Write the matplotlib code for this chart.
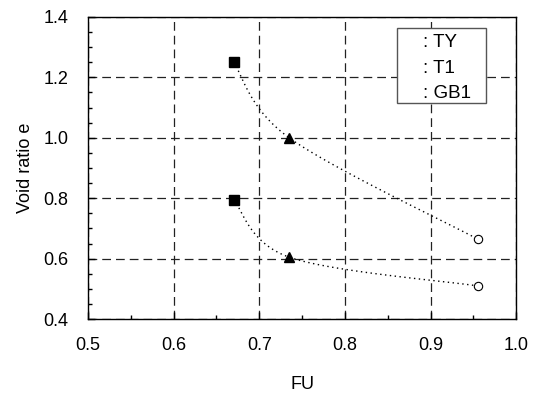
import numpy as np
import matplotlib
matplotlib.use("Agg")
import matplotlib.pyplot as plt
from matplotlib.patches import Rectangle
from matplotlib.ticker import MultipleLocator, FormatStrFormatter

plt.rcParams["font.family"] = ["Liberation Sans", "DejaVu Sans"]

# values
fu = [0.67, 0.735, 0.955]
e_upper = [1.25, 1.0, 0.665]
e_lower = [0.795, 0.605, 0.51]
sample_names = ["TY", "T1", "GB1"]
sample_markers = ["s", "^", "o"]


def smooth_curve(xs, ys, n=40):
    """Catmull-Rom through the points (in pixel-like scaled space), like a spreadsheet smoothed line."""
    sx, sy = 856.0, 302.0
    p = np.column_stack([np.asarray(xs) * sx, np.asarray(ys) * sy])
    p = np.vstack([p[0], p, p[-1]])
    out = []
    for i in range(1, len(p) - 2):
        p0, p1, p2, p3 = p[i - 1], p[i], p[i + 1], p[i + 2]
        t = np.linspace(0, 1, n)[:, None]
        seg = 0.5 * ((2 * p1) + (-p0 + p2) * t + (2 * p0 - 5 * p1 + 4 * p2 - p3) * t ** 2
                     + (-p0 + 3 * p1 - 3 * p2 + p3) * t ** 3)
        out.append(seg if i == 1 else seg[1:])
    out = np.vstack(out)
    return out[:, 0] / sx, out[:, 1] / sy


fig = plt.figure(figsize=(5.36, 3.94), dpi=100)
ax = fig.add_axes([0.164, 0.19, 0.799, 0.767])

for ys in (e_upper, e_lower):
    cx, cy = smooth_curve(fu, ys)
    ax.plot(cx, cy, color="black", linestyle=(0, (1, 2.5)), linewidth=1.0, zorder=2)
    for x, y, m in zip(fu, ys, sample_markers):
        if m == "o":
            ax.plot(x, y, marker=m, markersize=6, markerfacecolor="white",
                    markeredgecolor="black", markeredgewidth=0.8, zorder=3)
        else:
            ax.plot(x, y, marker=m, markersize=7, color="black", zorder=3)

ax.set_xlim(0.5, 1.0)
ax.set_ylim(0.4, 1.4)
ax.xaxis.set_major_locator(MultipleLocator(0.1))
ax.xaxis.set_minor_locator(MultipleLocator(0.05))
ax.yaxis.set_major_locator(MultipleLocator(0.2))
ax.yaxis.set_minor_locator(MultipleLocator(0.05))
ax.xaxis.set_major_formatter(FormatStrFormatter("%.1f"))
ax.yaxis.set_major_formatter(FormatStrFormatter("%.1f"))
ax.tick_params(which="both", direction="in", labelsize=13)
ax.tick_params(which="major", length=5, width=1)
ax.tick_params(which="minor", length=3, width=1)
ax.tick_params(axis="x", pad=13)
ax.tick_params(axis="y", pad=14)
ax.grid(True, which="major", color="#222222", linestyle=(0, (7, 4)), linewidth=0.9)
for s in ax.spines.values():
    s.set_linewidth(1.0)

ax.set_xlabel("FU", fontsize=13, labelpad=16)
ax.set_ylabel("Void ratio e", fontsize=13, labelpad=7)

# legend box (markers are not visible in the original, only the labels)
ax.add_patch(Rectangle((0.722, 0.715), 0.208, 0.249, transform=ax.transAxes,
                       facecolor="white", edgecolor="#555555", linewidth=1.0, zorder=5))
for i, name in enumerate(sample_names):
    ax.text(0.783, 0.914 - 0.084 * i, ": " + name, transform=ax.transAxes,
            fontsize=13.5, ha="left", va="center", zorder=6)

fig.savefig("out.png", dpi=100)
